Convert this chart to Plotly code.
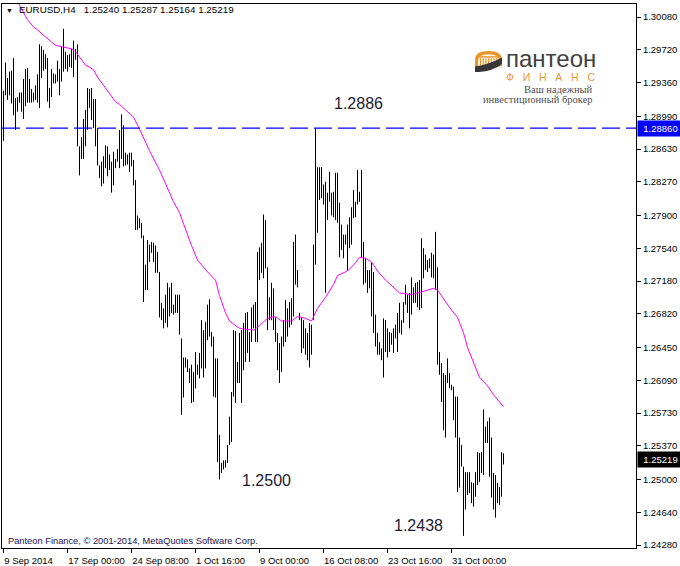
import plotly.graph_objects as go

# ---------------- data ----------------
highs = [
    1.2927, 1.2958, 1.2941, 1.2948, 1.2949, 1.2963, 1.2919, 1.2920, 1.2925, 1.2925,
    1.2940, 1.2951, 1.2952, 1.2940, 1.2929, 1.2925, 1.2933, 1.2945, 1.2978, 1.2976,
    1.2972, 1.2967, 1.2963, 1.2930, 1.2951, 1.2946, 1.2945, 1.2960, 1.2951, 1.2975,
    1.2995, 1.2970, 1.2966, 1.2967, 1.2973, 1.2982, 1.2973, 1.2978, 1.2866, 1.2876,
    1.2896, 1.2906, 1.2930, 1.2929, 1.2930, 1.2918, 1.2918, 1.2886, 1.2845, 1.2849,
    1.2855, 1.2867, 1.2866, 1.2857, 1.2849, 1.2860, 1.2852, 1.2863, 1.2884, 1.2901,
    1.2889, 1.2859, 1.2857, 1.2859, 1.2859, 1.2851, 1.2829, 1.2790, 1.2787, 1.2782,
    1.2768, 1.2736, 1.2763, 1.2758, 1.2761, 1.2760, 1.2757, 1.2750, 1.2728, 1.2694,
    1.2688, 1.2703, 1.2716, 1.2711, 1.2716, 1.2692, 1.2703, 1.2703, 1.2703, 1.2655,
    1.2634, 1.2634, 1.2632, 1.2622, 1.2626, 1.2618, 1.2640, 1.2626, 1.2639, 1.2675,
    1.2664, 1.2673, 1.2692, 1.2698, 1.2662, 1.2657, 1.2633, 1.2633, 1.2549, 1.2518,
    1.2521, 1.2521, 1.2538, 1.2569, 1.2596, 1.2664, 1.2663, 1.2629, 1.2661, 1.2664,
    1.2672, 1.2683, 1.2684, 1.2662, 1.2689, 1.2692, 1.2695, 1.2750, 1.2755, 1.2760,
    1.2791, 1.2785, 1.2733, 1.2700, 1.2716, 1.2710, 1.2678, 1.2661, 1.2650, 1.2657,
    1.2675, 1.2697, 1.2688, 1.2695, 1.2699, 1.2761, 1.2769, 1.2730, 1.2683, 1.2678,
    1.2675, 1.2666, 1.2661, 1.2672, 1.2670, 1.2758, 1.2886, 1.2843, 1.2843, 1.2843,
    1.2824, 1.2827, 1.2815, 1.2838, 1.2815, 1.2816, 1.2837, 1.2837, 1.2804, 1.2780,
    1.2769, 1.2769, 1.2780, 1.2788, 1.2799, 1.2818, 1.2805, 1.2840, 1.2816, 1.2840,
    1.2761, 1.2743, 1.2730, 1.2730, 1.2738, 1.2728, 1.2681, 1.2661, 1.2651, 1.2644,
    1.2677, 1.2675, 1.2666, 1.2662, 1.2661, 1.2666, 1.2670, 1.2683, 1.2694, 1.2675,
    1.2695, 1.2714, 1.2703, 1.2705, 1.2722, 1.2711, 1.2716, 1.2717, 1.2719, 1.2765,
    1.2754, 1.2747, 1.2741, 1.2743, 1.2749, 1.2747, 1.2772, 1.2733, 1.2640, 1.2628,
    1.2617, 1.2615, 1.2633, 1.2617, 1.2604, 1.2602, 1.2591, 1.2591, 1.2546, 1.2538,
    1.2514, 1.2508, 1.2508, 1.2508, 1.2497, 1.2496, 1.2508, 1.2530, 1.2529, 1.2530,
    1.2577, 1.2558, 1.2564, 1.2568, 1.2546, 1.2507, 1.2505, 1.2496, 1.2492, 1.2530,
    1.25287,
]
lows = [
    1.2872, 1.2922, 1.2917, 1.2922, 1.2913, 1.2900, 1.2884, 1.2904, 1.2914, 1.2904,
    1.2896, 1.2910, 1.2914, 1.2914, 1.2914, 1.2915, 1.2917, 1.2914, 1.2908, 1.2941,
    1.2949, 1.2951, 1.2915, 1.2908, 1.2920, 1.2935, 1.2935, 1.2937, 1.2922, 1.2937,
    1.2948, 1.2951, 1.2948, 1.2953, 1.2952, 1.2942, 1.2961, 1.2866, 1.2834, 1.2852,
    1.2852, 1.2866, 1.2884, 1.2908, 1.2895, 1.2886, 1.2866, 1.2845, 1.2831, 1.2822,
    1.2825, 1.2842, 1.2833, 1.2840, 1.2815, 1.2823, 1.2842, 1.2849, 1.2842, 1.2852,
    1.2844, 1.2845, 1.2846, 1.2838, 1.2844, 1.2823, 1.2774, 1.2774, 1.2776, 1.2765,
    1.2695, 1.2708, 1.2708, 1.2739, 1.2749, 1.2739, 1.2727, 1.2727, 1.2678, 1.2675,
    1.2666, 1.2672, 1.2667, 1.2679, 1.2683, 1.2681, 1.2683, 1.2683, 1.2659, 1.2571,
    1.2590, 1.2623, 1.2618, 1.2606, 1.2584, 1.2585, 1.2600, 1.2615, 1.2611, 1.2622,
    1.2612, 1.2622, 1.2653, 1.2657, 1.2646, 1.2591, 1.2590, 1.2519, 1.2500, 1.2507,
    1.2511, 1.2513, 1.2518, 1.2538, 1.2541, 1.2591, 1.2584, 1.2606, 1.2606, 1.2584,
    1.2620, 1.2629, 1.2639, 1.2629, 1.2651, 1.2666, 1.2651, 1.2651, 1.2719, 1.2727,
    1.2721, 1.2732, 1.2664, 1.2675, 1.2675, 1.2664, 1.2651, 1.2620, 1.2606, 1.2618,
    1.2646, 1.2651, 1.2657, 1.2667, 1.2670, 1.2679, 1.2714, 1.2711, 1.2675, 1.2639,
    1.2644, 1.2637, 1.2631, 1.2623, 1.2637, 1.2675, 1.2736, 1.2771, 1.2807, 1.2809,
    1.2802, 1.2705, 1.2785, 1.2805, 1.2790, 1.2788, 1.2785, 1.2782, 1.2744, 1.2752,
    1.2743, 1.2758, 1.2730, 1.2754, 1.2758, 1.2787, 1.2788, 1.2802, 1.2805, 1.2744,
    1.2714, 1.2716, 1.2705, 1.2710, 1.2679, 1.2661, 1.2646, 1.2637, 1.2637, 1.2631,
    1.2612, 1.2640, 1.2634, 1.2640, 1.2648, 1.2639, 1.2655, 1.2640, 1.2661, 1.2659,
    1.2672, 1.2692, 1.2683, 1.2666, 1.2681, 1.2694, 1.2694, 1.2689, 1.2686, 1.2688,
    1.2721, 1.2730, 1.2728, 1.2732, 1.2722, 1.2721, 1.2708, 1.2626, 1.2615, 1.2585,
    1.2554, 1.2546, 1.2606, 1.2600, 1.2598, 1.2565, 1.2546, 1.2486, 1.2491, 1.2514,
    1.2438, 1.2467, 1.2483, 1.2485, 1.2474, 1.2470, 1.2481, 1.2494, 1.2497, 1.2507,
    1.2505, 1.2540, 1.2540, 1.2503, 1.2480, 1.2467, 1.2458, 1.2474, 1.2472, 1.2481,
    1.25164,
]

# moving average (magenta), read at sample bars
ma_idx = [6, 12, 15, 17, 20, 23, 26, 30, 34, 36, 38, 41, 43, 45, 47, 50, 53, 56, 58, 61,
          63, 65, 68, 73, 78, 82, 85, 88, 91, 94, 97, 102, 106, 108, 111, 113, 118, 125, 128, 132,
          136, 139, 144, 147, 151, 154, 157, 161, 165, 167, 171, 173, 176, 178, 181, 184, 187, 191, 198, 204,
          209, 215, 217, 221, 224, 227, 230, 232, 235, 238, 242, 245, 250]
ma_vals = [1.3029, 1.3005, 1.2997, 1.2994, 1.2988, 1.2982, 1.2977, 1.2975, 1.2973, 1.2970,
           1.2964, 1.2955, 1.2953, 1.2950, 1.2942, 1.2933, 1.2923, 1.2915, 1.2912, 1.2906,
           1.2903, 1.2898, 1.2885, 1.2861, 1.2840, 1.2820, 1.2805, 1.2793, 1.2774, 1.2757,
           1.2741, 1.2728, 1.2719, 1.2702, 1.2683, 1.2674, 1.2666, 1.2664, 1.2669, 1.2677,
           1.2679, 1.2674, 1.2674, 1.2679, 1.2677, 1.2674, 1.2688, 1.2700, 1.2714, 1.2724,
           1.2728, 1.2731, 1.2738, 1.2744, 1.2743, 1.2739, 1.2729, 1.2719, 1.2705, 1.2703,
           1.2706, 1.2710, 1.2708, 1.2695, 1.2686, 1.2678, 1.2661, 1.2645, 1.2629, 1.2612,
           1.2603, 1.2593, 1.2580]

x_tick_idx = [0, 32, 64, 96, 128, 160, 192, 224]
x_tick_labels = ["9 Sep 2014", "17 Sep 00:00", "24 Sep 08:00", "1 Oct 16:00",
                 "9 Oct 00:00", "16 Oct 08:00", "23 Oct 16:00", "31 Oct 00:00"]
y_tick_labels = ["1.30080", "1.29720", "1.29360", "1.28990", "1.28630", "1.28270",
                 "1.27900", "1.27540", "1.27180", "1.26820", "1.26450", "1.26090",
                 "1.25730", "1.25370", "1.25000", "1.24640", "1.24280"]

level_line = 1.28860
last_price = 1.25219
title_text = "EURUSD,H4\u00a0\u00a0 1.25240 1.25287 1.25164 1.25219"
level_notes = [(177.5, 1.29125, "1.2886"), (131.25, 1.24994, "1.2500"), (207.25, 1.24489, "1.2438")]

# ---------------- figure ----------------
W, H = 680, 566
ML, MR, MT, MB = 2, 44, 4, 18
PW, PH = W - ML - MR, H - MT - MB
FONT = "Liberation Sans, Arial, sans-serif"


def pxx(p):
    return (p - ML) / PW


def pxy(p):
    return 1 - (p - MT) / PH


bx, by = [], []
for i, (h, l) in enumerate(zip(highs, lows)):
    bx += [i, i, None]
    by += [l, h, None]

# MT4 draws time labels starting at the tick; pad shorter labels so all start at their tick
pad = {"9 Sep 2014": 3, "1 Oct 16:00": 3, "9 Oct 00:00": 3,
       "16 Oct 08:00": 1, "23 Oct 16:00": 1, "31 Oct 00:00": 1}
x_tick_text = [t + "\u00a0" * pad.get(t, 0) for t in x_tick_labels]

fig = go.Figure()
fig.add_trace(go.Scatter(x=bx, y=by, mode="lines", line=dict(color="black", width=1),
                         hoverinfo="skip", showlegend=False))
fig.add_trace(go.Scatter(x=ma_idx, y=ma_vals, mode="lines", line=dict(color="#FF00FF", width=1),
                         hoverinfo="skip", showlegend=False))

fig.add_shape(type="line", xref="paper", x0=0, x1=1, yref="y", y0=level_line, y1=level_line,
              line=dict(color="#0000FF", width=1.3, dash="18px,6px"))

for xi, yv, txt in level_notes:
    fig.add_annotation(x=xi, y=yv, xref="x", yref="y", text=txt, showarrow=False,
                       xanchor="center", yanchor="middle",
                       font=dict(family=FONT, size=16, color="#1a1a33"))

# price boxes on the right axis
fig.add_annotation(x=1, xref="paper", xanchor="left", xshift=1, y=level_line, yref="y", yanchor="middle",
                   text="1.28860", showarrow=False, bgcolor="#0000FF", width=43, height=13,
                   font=dict(family=FONT, size=9.5, color="white"))
fig.add_annotation(x=1, xref="paper", xanchor="left", xshift=1, y=last_price, yref="y", yanchor="middle",
                   text=f"{last_price:.5f}", showarrow=False, bgcolor="black", width=43, height=13,
                   font=dict(family=FONT, size=9.5, color="white"))


def note(px, py, text, size, color, xanchor="left", family=FONT):
    fig.add_annotation(x=pxx(px), y=pxy(py), xref="paper", yref="paper", text=text,
                       showarrow=False, xanchor=xanchor, yanchor="middle",
                       font=dict(family=family, size=size, color=color))


# title
note(9, 10.5, "▼", 7, "black", xanchor="center")
note(17, 10, title_text, 9.8, "black")
# copyright
note(6, 541, "Panteon Finance, © 2001-2014, MetaQuotes Software Corp.", 9.3, "#1a1050")
# logo text
note(504, 59, "пантеон", 24, "#404040")
note(550, 77, "Ф\u00a0\u00a0\u00a0И\u00a0\u00a0\u00a0Н\u00a0\u00a0\u00a0А\u00a0\u00a0\u00a0Н\u00a0\u00a0\u00a0С",
     10.5, "#E8963C", xanchor="center")
note(595, 89, "Ваш надежный", 10.5, "#505050", xanchor="right", family="Liberation Serif, serif")
note(595, 99.5, "инвестиционный брокер", 10.5, "#505050", xanchor="right", family="Liberation Serif, serif")


def path(cmds):
    out = []
    for c in cmds:
        if isinstance(c, str):
            out.append(c)
        else:
            out.append(f"{pxx(c[0]):.5f},{pxy(c[1]):.5f}")
    return " ".join(out)


def pshape(cmds, color):
    fig.add_shape(type="path", xref="paper", yref="paper", line=dict(width=0), fillcolor=color,
                  path=path(cmds))


def rshape(x0, x1, y0, y1, color):
    fig.add_shape(type="rect", xref="paper", yref="paper", line=dict(width=0), fillcolor=color,
                  x0=pxx(x0), x1=pxx(x1), y0=pxy(y0), y1=pxy(y1))


ORANGE = "#E8962A"
# logo icon: orange arch with columns, dark swoosh below
pshape(["M", (475, 71), "L", (475, 60), "Q", (475, 51), (488.5, 51), "Q", (502, 51),
        (502, 60), "L", (502, 66), "Z"], ORANGE)
pshape(["M", (478, 69), "L", (478, 61), "Q", (478, 54.3), (488.5, 54.3), "Q", (499, 54.3),
        (499, 61), "L", (499, 66), "Z"], "#FFF6EA")
rshape(479, 498, 56.2, 57.6, ORANGE)
for cx in [480.5, 483.2, 485.9, 488.6, 491.3, 494, 496.7]:
    rshape(cx - 0.6, cx + 0.6, 58.2, 66, ORANGE)
pshape(["M", (475, 66.5), "Q", (489, 64.5), (502, 57.5), "L", (502, 64), "Q", (493, 71),
        (479, 72), "L", (475, 72), "Z"], "#363636")

fig.update_layout(
    width=W, height=H,
    margin=dict(l=ML, r=MR, t=MT, b=MB, pad=0),
    paper_bgcolor="white", plot_bgcolor="white",
    showlegend=False,
    font=dict(family=FONT, size=9.5, color="black"),
    xaxis=dict(range=[-0.75, -0.75 + PW / 2], showgrid=False, zeroline=False, automargin=False,
               showline=True, linecolor="black", linewidth=1, mirror=True,
               ticks="outside", ticklen=4, tickcolor="black",
               tickvals=x_tick_idx, ticktext=x_tick_text, ticklabelshift=29,
               tickfont=dict(family=FONT, size=9.5, color="black")),
    yaxis=dict(range=[1.24247, 1.30223], side="right", showgrid=False, zeroline=False, automargin=False,
               showline=True, linecolor="black", linewidth=1, mirror=True,
               ticks="outside", ticklen=4, tickcolor="black",
               tickvals=[float(v) for v in y_tick_labels], ticktext=y_tick_labels,
               tickfont=dict(family=FONT, size=9.5, color="black")),
)

fig.write_html("out.html", config={"displayModeBar": False},
               post_script="document.body.style.margin='0';document.body.style.padding='0';"
                           "document.body.style.overflow='hidden';")
